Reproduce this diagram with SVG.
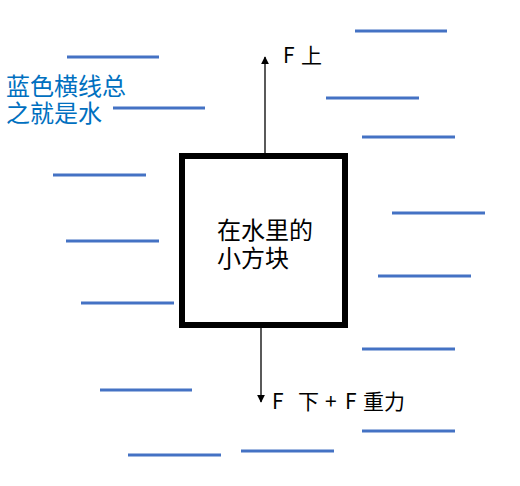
<svg xmlns="http://www.w3.org/2000/svg" width="520" height="486" viewBox="0 0 520 486">
<style>
.w{stroke:#4472C4;stroke-width:3;fill:none}
.t{font-family:"Noto Sans CJK SC","Noto Sans",sans-serif;font-size:21px;fill:#000}
.m{font-family:"Noto Sans CJK SC","Noto Sans",sans-serif;font-size:24px;fill:#000}
.b{font-family:"Noto Sans CJK SC","Noto Sans",sans-serif;font-size:24px;fill:#0070C0}
.c{stroke:#000;stroke-width:1.3;fill:none}
</style>
<defs>
<marker id="ah" viewBox="0 0 10 10" refX="9" refY="5" markerWidth="8" markerHeight="8" markerUnits="userSpaceOnUse" orient="auto">
<path d="M0,0 L10,5 L0,10 z" fill="#000"/>
</marker>
</defs>
<rect width="520" height="486" fill="#fff"/>
<g id="water">
<line class="w" x1="67" y1="57" x2="159" y2="57"/>
<line class="w" x1="113" y1="108" x2="205" y2="108"/>
<line class="w" x1="355" y1="31" x2="447" y2="31"/>
<line class="w" x1="326" y1="98" x2="419" y2="98"/>
<line class="w" x1="362" y1="137" x2="455" y2="137"/>
<line class="w" x1="53" y1="175" x2="146" y2="175"/>
<line class="w" x1="66" y1="241" x2="159" y2="241"/>
<line class="w" x1="81" y1="303" x2="174" y2="303"/>
<line class="w" x1="392" y1="213" x2="485" y2="213"/>
<line class="w" x1="378" y1="276" x2="471" y2="276"/>
<line class="w" x1="362" y1="349" x2="455" y2="349"/>
<line class="w" x1="100" y1="390" x2="192" y2="390"/>
<line class="w" x1="362" y1="431" x2="455" y2="431"/>
<line class="w" x1="241" y1="451" x2="334" y2="451"/>
<line class="w" x1="128" y1="455" x2="221" y2="455"/>
</g>
<g id="note">
<text class="b" x="6" y="95">蓝色横线总</text>
<text class="b" x="6" y="122">之就是水</text>
</g>
<g id="block">
<rect x="182" y="156" width="163" height="169" fill="#fff" stroke="#000" stroke-width="6"/>
<text class="m" x="217" y="239">在水里的</text>
<text class="m" x="217" y="267">小方块</text>
</g>
<g id="connectors">
<line class="c" x1="265" y1="153" x2="265" y2="57" marker-end="url(#ah)"/>
<line class="c" x1="261" y1="328" x2="261" y2="402" marker-end="url(#ah)"/>
</g>
<g id="labels">
<text class="t" y="63"><tspan x="283">F</tspan><tspan x="301">上</tspan></text>
<text class="t" y="409"><tspan x="272">F</tspan><tspan x="298">下</tspan><tspan x="325">+</tspan><tspan x="345">F</tspan><tspan x="363">重力</tspan></text>
</g>
</svg>
